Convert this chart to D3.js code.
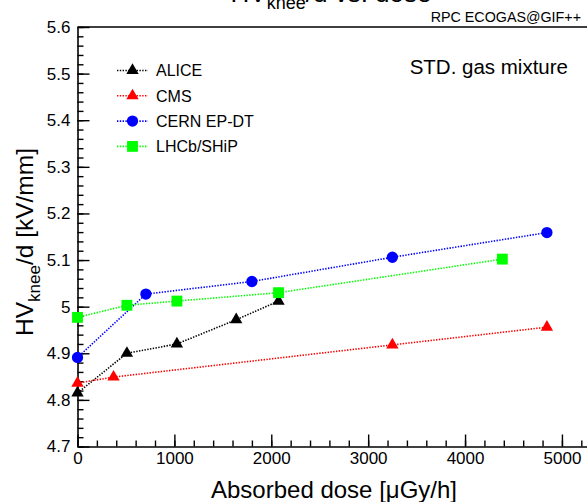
<!DOCTYPE html>
<html>
<head>
<meta charset="utf-8">
<script src="https://cdn.jsdelivr.net/npm/d3@7"></script>
<style>
  body { margin: 0; background: #fff; }
  svg { display: block; font-family: "Liberation Sans", Arial, Helvetica, sans-serif; }
  .axis path { stroke: #000; stroke-width: 1.6; }
  .axis line { stroke: #000; stroke-width: 1.4; }
  .axis text { font-size: 17px; fill: #000; }
</style>
</head>
<body>
<div id="chart"></div>
<script>
// values
var alice_x = [0, 510, 1026, 1638, 2075];
var alice_y = [4.815, 4.900, 4.920, 4.972, 5.012];
var cms_x = [0, 372, 3250, 4845];
var cms_y = [4.836, 4.849, 4.918, 4.956];
var cern_x = [0, 706, 1800, 3250, 4845];
var cern_y = [4.891, 5.027, 5.054, 5.106, 5.159];
var lhcb_x = [0, 510, 1026, 2075, 4385];
var lhcb_y = [4.977, 5.003, 5.012, 5.030, 5.102];

var series_names = ["ALICE", "CMS", "CERN EP-DT", "LHCb/SHiP"];
var x_ticks = [0, 1000, 2000, 3000, 4000, 5000];
var y_ticks = [4.7, 4.8, 4.9, 5.0, 5.1, 5.2, 5.3, 5.4, 5.5, 5.6];

var width = 587, height = 502;
var padL = 77.5, padT = 27, padB = 446.5, padR = 591;

var svg = d3.select("#chart")
    .append("svg")
    .attr("width", width)
    .attr("height", height);

var x = d3.scaleLinear().domain([0, 5300]).range([padL, padR]);
var y = d3.scaleLinear().domain([4.7, 5.6]).range([padB, padT]);

var series = [
    {name: series_names[0], xs: alice_x, ys: alice_y, color: "#000000", shape: d3.symbolTriangle},
    {name: series_names[1], xs: cms_x, ys: cms_y, color: "#ff0000", shape: d3.symbolTriangle},
    {name: series_names[2], xs: cern_x, ys: cern_y, color: "#0000ff", shape: d3.symbolCircle},
    {name: series_names[3], xs: lhcb_x, ys: lhcb_y, color: "#00ff00", shape: d3.symbolSquare}
];

function symSize(shape) {
    if (shape === d3.symbolCircle) return 100;
    if (shape === d3.symbolSquare) return 118;
    return 66;
}

// frame (top + right)
svg.append("path")
    .attr("d", "M" + padL + "," + padT + "H" + padR + "V" + padB)
    .attr("fill", "none")
    .attr("stroke", "#000")
    .attr("stroke-width", 1.6);

// minor ticks
var xMinor = d3.range(0, 5301, 200);
var yMinor = d3.range(0, 46).map(function(i){ return 4.7 + i * 0.02; });

svg.append("g")
    .attr("class", "axis")
    .attr("transform", "translate(0," + padB + ")")
    .call(d3.axisBottom(x).tickValues(xMinor).tickSize(-6).tickFormat(""))
    .select(".domain").remove();

svg.append("g")
    .attr("class", "axis")
    .attr("transform", "translate(" + padL + ",0)")
    .call(d3.axisLeft(y).tickValues(yMinor).tickSize(-6).tickFormat(""))
    .select(".domain").remove();

// major ticks + labels
svg.append("g")
    .attr("class", "axis")
    .attr("transform", "translate(0," + padB + ")")
    .call(d3.axisBottom(x).tickValues(x_ticks).tickSizeInner(-12).tickSizeOuter(0).tickPadding(5)
        .tickFormat(d3.format("d")));

svg.append("g")
    .attr("class", "axis")
    .attr("transform", "translate(" + padL + ",0)")
    .call(d3.axisLeft(y).tickValues(y_ticks).tickSizeInner(-12).tickSizeOuter(0).tickPadding(7)
        .tickFormat(function(d){ return d3.format("~g")(+d.toFixed(1)); }));

// lines + markers
var line = d3.line()
    .x(function(d){ return x(d[0]); })
    .y(function(d){ return y(d[1]); });

series.forEach(function(s){
    var pts = s.xs.map(function(v, i){ return [v, s.ys[i]]; });
    svg.append("path")
        .datum(pts)
        .attr("d", line)
        .attr("fill", "none")
        .attr("stroke", s.color)
        .attr("stroke-width", 1.6)
        .attr("stroke-dasharray", "1.4,1.4");
    svg.selectAll(null)
        .data(pts)
        .enter()
        .append("path")
        .attr("d", d3.symbol().type(s.shape).size(symSize(s.shape)))
        .attr("transform", function(d){ return "translate(" + x(d[0]) + "," + y(d[1]) + ")"; })
        .attr("fill", s.color);
});

// legend
var legend = svg.append("g").attr("transform", "translate(117,70.5)");
series.forEach(function(s, i){
    var g = legend.append("g").attr("transform", "translate(0," + (i * 25.3) + ")");
    g.append("line")
        .attr("x1", 0).attr("x2", 31)
        .attr("stroke", s.color)
        .attr("stroke-width", 1.6)
        .attr("stroke-dasharray", "1.4,1.4");
    g.append("path")
        .attr("d", d3.symbol().type(s.shape).size(symSize(s.shape)))
        .attr("transform", "translate(15.5,0)")
        .attr("fill", s.color);
    g.append("text")
        .attr("x", 39)
        .attr("dy", "0.36em")
        .style("font-size", "16px")
        .text(s.name);
});

// texts
var title = svg.append("text")
    .attr("x", 331).attr("y", 1.5)
    .attr("text-anchor", "middle")
    .style("font-size", "26px");
title.append("tspan").text("HV");
title.append("tspan").attr("dy", 7.5).style("font-size", "18px").text("knee");
title.append("tspan").attr("dy", -7.5).text("/d vs. dose");

svg.append("text")
    .attr("x", 581).attr("y", 22)
    .attr("text-anchor", "end")
    .style("font-size", "14.3px")
    .text("RPC ECOGAS@GIF++");

svg.append("text")
    .attr("x", 568).attr("y", 74)
    .attr("text-anchor", "end")
    .style("font-size", "20.5px")
    .text("STD. gas mixture");

svg.append("text")
    .attr("x", 334).attr("y", 498)
    .attr("text-anchor", "middle")
    .style("font-size", "24px")
    .text("Absorbed dose [\u03bcGy/h]");

var ytitle = svg.append("text")
    .attr("transform", "translate(33,242) rotate(-90)")
    .attr("text-anchor", "middle")
    .style("font-size", "24.5px");
ytitle.append("tspan").text("HV");
ytitle.append("tspan").attr("dy", 7).style("font-size", "17px").text("knee");
ytitle.append("tspan").attr("dy", -7).text("/d [kV/mm]");
</script>
</body>
</html>
